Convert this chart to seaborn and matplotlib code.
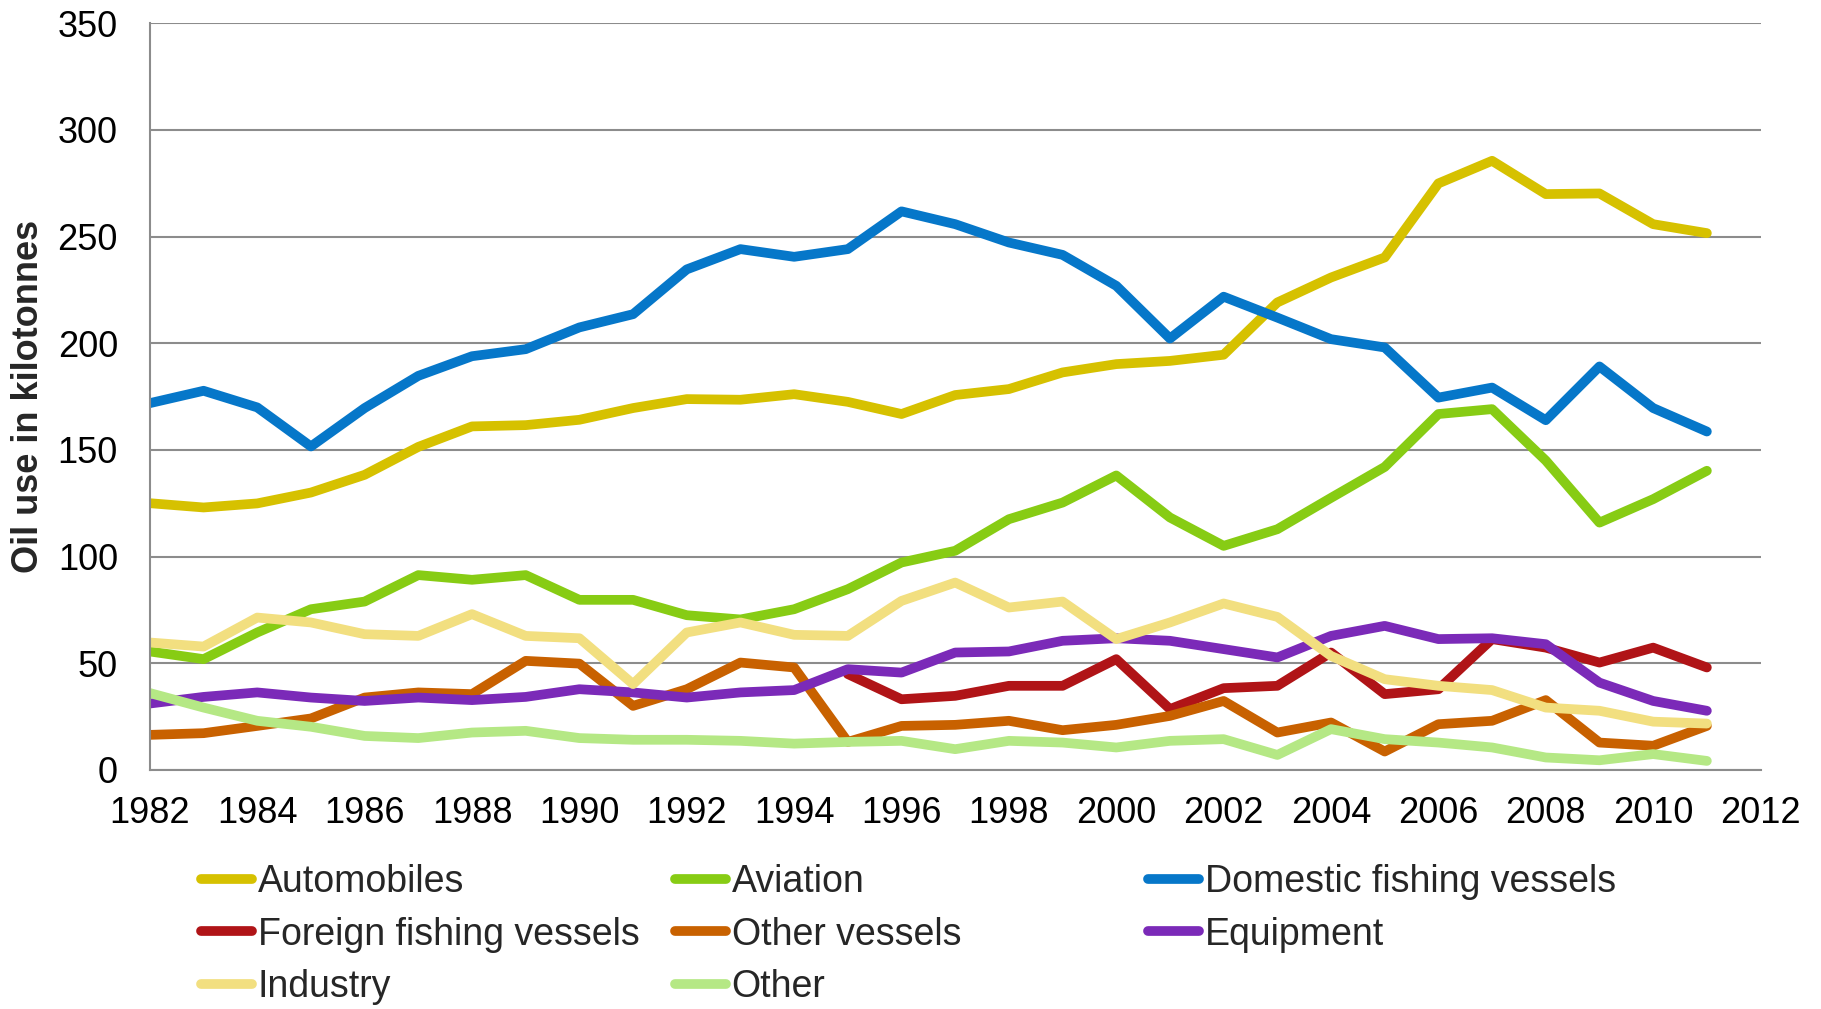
import matplotlib
matplotlib.use('Agg')
import matplotlib.pyplot as plt
import seaborn as sns
import numpy as np
import pandas as pd

years = list(range(1982, 2012))

automobiles = [125.0, 123.0, 124.9, 130.0, 138.3, 151.4, 161.0, 161.6, 164.1, 169.6,
               173.8, 173.5, 176.1, 172.5, 166.8, 175.7, 178.5, 186.3, 190.2, 191.7,
               194.6, 219.1, 230.8, 240.2, 274.9, 285.5, 269.9, 270.2, 255.8, 251.6]
aviation = [55.5, 51.9, 64.4, 75.3, 78.9, 91.3, 89.1, 91.3, 79.7, 79.7,
            72.5, 70.5, 75.3, 84.7, 97.2, 102.7, 117.5, 125.3, 138.0, 118.3,
            105.0, 112.8, 127.5, 142.0, 166.8, 169.1, 145.0, 115.9, 126.9, 140.2]
domestic_fishing = [171.9, 177.7, 169.9, 151.6, 169.6, 184.7, 193.9, 197.2, 207.4, 213.6,
                    234.6, 244.1, 240.5, 244.1, 261.8, 255.8, 247.2, 241.4, 226.9, 202.2,
                    221.8, 212.0, 201.9, 198.0, 174.5, 179.2, 163.9, 189.1, 169.6, 158.6]
foreign_fishing = [None] * 13 + [44.9, 33.1, 34.7, 39.4, 39.4, 51.9, 28.5,
                                 38.3, 39.4, 55.0, 35.5, 37.8, 61.3, 57.3, 50.3, 57.3, 48.0]
other_vessels = [16.4, 17.2, 20.6, 24.1, 33.9, 36.3, 35.5, 51.1, 49.8, 30.0,
                 37.8, 50.3, 48.0, 13.1, 20.6, 21.1, 23.0, 18.6, 21.1, 25.3,
                 32.3, 17.5, 22.2, 8.6, 21.4, 23.0, 32.7, 12.8, 11.3, 20.6]
equipment = [31.1, 34.2, 36.3, 33.9, 32.3, 33.9, 32.7, 34.2, 37.8, 36.3,
             33.9, 36.3, 37.4, 47.2, 45.6, 55.0, 55.5, 60.5, 61.7, 60.5,
             56.6, 52.7, 62.8, 67.5, 61.3, 61.7, 58.9, 40.9, 32.3, 27.7]
industry = [59.7, 57.8, 71.4, 69.1, 63.6, 62.8, 73.0, 62.8, 61.7, 40.2,
            64.4, 69.1, 63.3, 62.8, 79.2, 87.8, 76.1, 78.9, 61.3, 69.1,
            78.0, 71.7, 53.4, 42.5, 39.4, 37.4, 29.2, 27.7, 22.6, 21.7]
other = [36.0, 29.2, 23.0, 20.2, 15.9, 14.9, 17.5, 18.3, 14.9, 14.1,
         14.1, 13.6, 12.3, 13.1, 13.6, 9.7, 13.6, 12.8, 10.5, 13.6,
         14.4, 7.0, 19.1, 14.4, 12.8, 10.5, 5.8, 4.5, 7.4, 4.2]

series_names = ['Automobiles', 'Aviation', 'Domestic fishing vessels',
                'Foreign fishing vessels', 'Other vessels', 'Equipment',
                'Industry', 'Other']
series_values = [automobiles, aviation, domestic_fishing, foreign_fishing,
                 other_vessels, equipment, industry, other]
colors = ['#D6C100', '#87CC14', '#0677C9', '#B01417',
          '#C86100', '#7B2AB8', '#F2DF80', '#B5E885']

rows = []
for name, vals in zip(series_names, series_values):
    for yr, v in zip(years, vals):
        if v is not None:
            rows.append({'Year': yr, 'Value': v, 'Series': name})
df = pd.DataFrame(rows)

sns.set_style('white')
plt.rcParams['font.family'] = ['Liberation Sans', 'DejaVu Sans']

fig = plt.figure(figsize=(18.21, 10.09), dpi=100)
ax = fig.add_axes([0.0823, 0.237, 0.9668 - 0.0823, 0.977 - 0.237])

sns.lineplot(data=df, x='Year', y='Value', hue='Series', hue_order=series_names,
             palette=dict(zip(series_names, colors)), linewidth=7,
             solid_capstyle='round', legend=False, ax=ax)

grid_color = '#8C8C8C'
ax.set_xlim(1982, 2012)
ax.set_ylim(0, 350)
ax.set_xticks(range(1982, 2013, 2))
ax.set_yticks(range(0, 351, 50))
ax.yaxis.grid(True, color=grid_color, linewidth=1.5)
ax.set_axisbelow(True)
for side in ['top', 'right']:
    ax.spines[side].set_visible(False)
for side in ['left', 'bottom']:
    ax.spines[side].set_color(grid_color)
    ax.spines[side].set_linewidth(1.5)
ax.tick_params(axis='both', direction='out', length=8, width=1.5,
               color=grid_color, labelsize=26, labelcolor='black')
ax.tick_params(axis='x', pad=11)
ax.tick_params(axis='y', pad=15)
ax.set_xlabel('')
ax.set_ylabel('Oil use in kilotonnes', fontsize=26, fontweight='bold', labelpad=8)

# Excel-style legend: three fixed-width columns, filled row by row
lines = ax.get_lines()
col_x = [0.1104, 0.3707, 0.6304]
col_items = [[0, 3, 6], [1, 4, 7], [2, 5]]
for cx, idx in zip(col_x, col_items):
    fig.legend([lines[i] for i in idx], [series_names[i] for i in idx],
               loc='upper left', bbox_to_anchor=(cx, 0.144),
               frameon=False, fontsize=27, handlelength=1.36,
               handletextpad=0.15, labelspacing=0.45,
               borderpad=0, borderaxespad=0)

fig.savefig('out.png', dpi=100)
